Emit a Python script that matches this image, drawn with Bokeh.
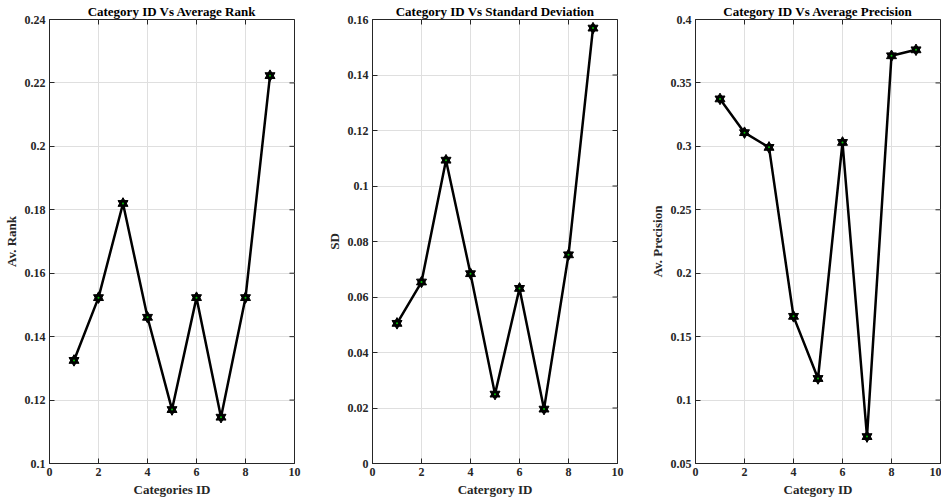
import math
from bokeh.plotting import figure
from bokeh.layouts import row
from bokeh.models import Range1d, FixedTicker
from bokeh.embed import file_html
from bokeh.resources import INLINE

# ---- data ----
category_ids = [1, 2, 3, 4, 5, 6, 7, 8, 9]
avg_rank = [0.1325, 0.1523, 0.1820, 0.1461, 0.1170, 0.1523, 0.1146, 0.1523, 0.2223]
std_dev = [0.0505, 0.0654, 0.1093, 0.0684, 0.0250, 0.0631, 0.0196, 0.0752, 0.1569]
avg_precision = [0.3374, 0.3108, 0.2992, 0.1660, 0.1170, 0.3031, 0.0712, 0.3714, 0.3761]

x_ticks = [0, 2, 4, 6, 8, 10]
x_labels = ["0", "2", "4", "6", "8", "10"]
rank_ticks = [0.1, 0.12, 0.14, 0.16, 0.18, 0.2, 0.22, 0.24]
rank_labels = ["0.1", "0.12", "0.14", "0.16", "0.18", "0.2", "0.22", "0.24"]
sd_ticks = [0.0, 0.02, 0.04, 0.06, 0.08, 0.1, 0.12, 0.14, 0.16]
sd_labels = ["0", "0.02", "0.04", "0.06", "0.08", "0.1", "0.12", "0.14", "0.16"]
prec_ticks = [0.05, 0.1, 0.15, 0.2, 0.25, 0.3, 0.35, 0.4]
prec_labels = ["0.05", "0.1", "0.15", "0.2", "0.25", "0.3", "0.35", "0.4"]

FONT = "Liberation Serif"
AX = "#262626"


def make_panel(title, xlabel, ylabel, yvals, yticks, ylabels, left, right):
    p = figure(frame_width=245, frame_height=444,
               min_border_left=left, min_border_right=right,
               min_border_top=12, min_border_bottom=30,
               x_range=Range1d(0, 10), y_range=Range1d(yticks[0], yticks[-1]),
               output_backend="svg", toolbar_location=None, tools="",
               title=title)
    p.title.align = "center"
    p.title.text_font = FONT
    p.title.text_font_style = "bold"
    p.title.text_font_size = "13px"
    p.title.text_color = "black"
    p.title.standoff = 2
    p.title.offset = 0
    p.outline_line_color = AX
    p.outline_line_width = 1
    p.background_fill_color = "white"
    p.border_fill_color = "white"

    for ax, ticks, labels, lab in ((p.below[0], x_ticks, x_labels, xlabel),
                                   (p.left[0], yticks, ylabels, ylabel)):
        ax.ticker = FixedTicker(ticks=ticks)
        ax.major_label_overrides = {t: l for t, l in zip(ticks, labels)}
        ax.axis_label = lab
        ax.axis_label_text_font = FONT
        ax.axis_label_text_font_style = "bold"
        ax.axis_label_text_font_size = "13px"
        ax.axis_label_text_color = AX
        ax.axis_label_standoff = 3
        ax.major_label_text_font = FONT
        ax.major_label_text_font_style = "bold"
        ax.major_label_text_font_size = "12px"
        ax.major_label_text_color = AX
        ax.major_label_standoff = 4
        ax.major_tick_in = 5
        ax.major_tick_out = 0
        ax.minor_tick_line_color = None
        ax.axis_line_color = AX
        ax.major_tick_line_color = AX

    p.xgrid.grid_line_color = "#dfdfdf"
    p.ygrid.grid_line_color = "#dfdfdf"

    # inward ticks on the top and right edges of the box
    p.scatter(x_ticks, [yticks[-1]] * len(x_ticks), marker="dash", size=10,
              angle=math.pi / 2, line_color=AX, line_width=1)
    p.scatter([10] * len(yticks), yticks, marker="dash", size=10,
              line_color=AX, line_width=1)

    p.line(category_ids, yvals, line_color="black", line_width=2.5)
    p.scatter(category_ids, yvals, marker="triangle", size=10,
              fill_color="black", line_color="black", line_width=1)
    p.scatter(category_ids, yvals, marker="inverted_triangle", size=10,
              fill_color="black", line_color="black", line_width=1)
    p.scatter(category_ids, yvals, marker="circle", size=2,
              fill_color="#00c000", line_color=None)
    return p


p1 = make_panel("Category ID Vs Average Rank", "Categories ID", "Av. Rank",
                avg_rank, rank_ticks, rank_labels, 40, 29)
p2 = make_panel("Category ID Vs Standard Deviation", "Catergory ID", "SD",
                std_dev, sd_ticks, sd_labels, 40, 29)
p3 = make_panel("Category ID Vs Average Precision", "Category ID", "Av. Precision",
                avg_precision, prec_ticks, prec_labels, 40, 1)

layout = row(p1, p2, p3, spacing=0)
open("out.html", "w").write(file_html(layout, INLINE))
